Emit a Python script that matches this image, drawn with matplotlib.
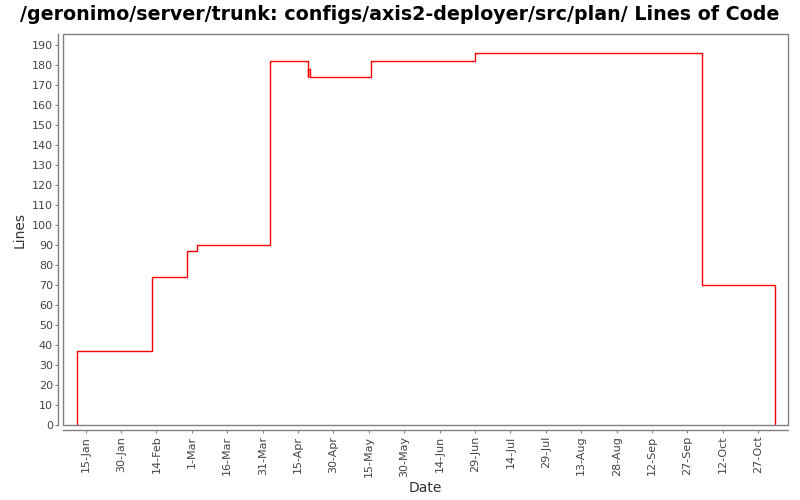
import matplotlib
matplotlib.use("Agg")
import matplotlib.pyplot as plt
import matplotlib.dates as mdates
from matplotlib.patches import Rectangle
import datetime as dt

# Data
dates = ["2007-01-11 12:00", "2007-01-11 12:00", "2007-02-12 00:00", "2007-02-27 00:00",
         "2007-03-03 00:00", "2007-04-03 00:00", "2007-04-19 00:00", "2007-04-19 09:00",
         "2007-04-20 05:00", "2007-05-16 00:00", "2007-06-29 00:00", "2007-10-03 00:00",
         "2007-11-03 00:00"]
lines = [0, 37, 74, 87, 90, 182, 174, 178, 174, 182, 186, 70, 0]
tick_dates = [dt.datetime(2007, 1, 15) + dt.timedelta(days=15 * k) for k in range(20)]
y_ticks = list(range(0, 200, 10))

title = "/geronimo/server/trunk: configs/axis2-deployer/src/plan/ Lines of Code"

x = [dt.datetime.strptime(d, "%Y-%m-%d %H:%M") for d in dates]

fig = plt.figure(figsize=(8, 5), dpi=100)
ax = fig.add_axes([63.3 / 800, 1 - 425.3 / 500, (788.3 - 63.3) / 800, (425.3 - 34.3) / 500])

ax.plot(x, lines, drawstyle="steps-post", color="#ff0000", lw=1.0)

x0 = mdates.date2num(dt.datetime(2007, 1, 15))
ax.set_xlim(x0 - 22.4 / 2.36, x0 + 702.6 / 2.36)
ax.set_ylim(0, 195.5)

ax.set_xticks(tick_dates)
ax.xaxis.set_major_formatter(mdates.DateFormatter("%-d-%b"))
ax.set_yticks(y_ticks)
ax.set_yticklabels([str(v) for v in y_ticks])

grey = "#808080"
for s in ["top", "right"]:
    ax.spines[s].set_visible(False)
for s in ["left", "bottom"]:
    ax.spines[s].set_position(("outward", 3.5))
    ax.spines[s].set_color(grey)
    ax.spines[s].set_linewidth(1.0)
ax.add_patch(Rectangle((0, 0), 1, 1, transform=ax.transAxes, fill=False,
                       edgecolor=grey, lw=1.0, clip_on=False, zorder=5))

ax.tick_params(axis="both", colors=grey, length=2, width=0.8, labelsize=8,
               labelcolor="#444444", pad=2)
plt.setp(ax.get_xticklabels(), rotation=90)

ax.set_xlabel("Date", fontsize=10, color="#333333", labelpad=3)
ax.set_ylabel("Lines", fontsize=10, color="#333333", labelpad=4)

fig.text(0.5, 1 - 15 / 500, title, ha="center", va="center", fontsize=13.7,
         fontweight="bold", family="DejaVu Sans")

fig.savefig("out.png", dpi=100)
